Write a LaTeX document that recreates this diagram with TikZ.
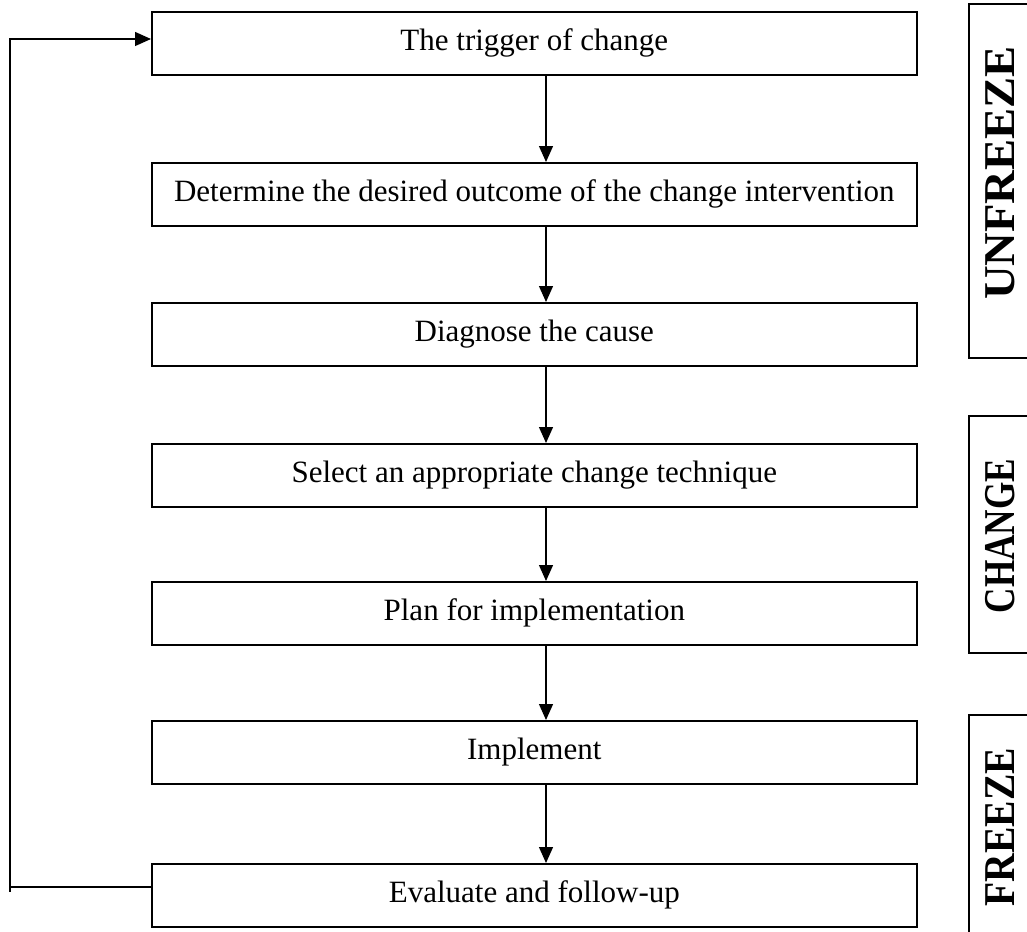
\documentclass[tikz,border=0pt]{standalone}
\usepackage{fontspec}
\setmainfont{Liberation Serif}
\usetikzlibrary{arrows.meta}
\tikzset{
  stepbox/.style={draw, line width=1.6pt, minimum width=765pt, minimum height=63pt, anchor=north west, inner sep=0pt, font=\fontsize{31}{36}\selectfont},
  conn/.style={line width=1.3pt, -{Triangle[width=14pt,length=16pt]}},
  loopline/.style={line width=1.3pt},
  phasebox/.style={draw, line width=1.6pt},
  phaselabel/.style={rotate=90, font=\fontsize{44}{50}\selectfont\bfseries, inner sep=0pt}
}
\begin{document}
\begin{tikzpicture}[x=1pt,y=-1pt]
\useasboundingbox (0,0) rectangle (1027,931);
\clip (0,0) rectangle (1027,931);
\node[stepbox] (b1) at (151,11) {The trigger of change};
\node[stepbox] (b2) at (151,162) {Determine the desired outcome of the change intervention};
\node[stepbox] (b3) at (151,302) {Diagnose the cause};
\node[stepbox] (b4) at (151,443) {Select an appropriate change technique};
\node[stepbox] (b5) at (151,581) {Plan for implementation};
\node[stepbox] (b6) at (151,720) {Implement};
\node[stepbox] (b7) at (151,863) {Evaluate and follow-up};
\foreach \a/\b in {b1/b2,b2/b3,b3/b4,b4/b5,b5/b6,b6/b7}{
  \draw[conn] (\a.south west) ++(395,0) coordinate (s) -- (s |- \b.north);
}
\coordinate (lb) at (10,892);
\coordinate (lc) at (10,887);
\coordinate (lt) at (10,39);
\draw[loopline] (b7.west |- lc) -- (lc) -- (lb);
\draw[conn] (lc) -- (lt) -- (lt -| b1.west);
\node[phasebox, minimum width=80pt, minimum height=354pt, anchor=north west] (p1) at (968,3) {};
\node[phasebox, minimum width=80pt, minimum height=237pt, anchor=north west] (p2) at (968,415) {};
\node[phasebox, minimum width=80pt, minimum height=240pt, anchor=north west] (p3) at (968,714) {};
\node[phaselabel] (l1) at (1000,173) {\scalebox{1.06}[1]{UNFREEZE}};
\node[phaselabel] (l2) at (1000,536) {\scalebox{0.8}[1]{CHANGE}};
\node[phaselabel] (l3) at (1000,827) {\scalebox{0.9}[1]{FREEZE}};
\end{tikzpicture}
\end{document}
